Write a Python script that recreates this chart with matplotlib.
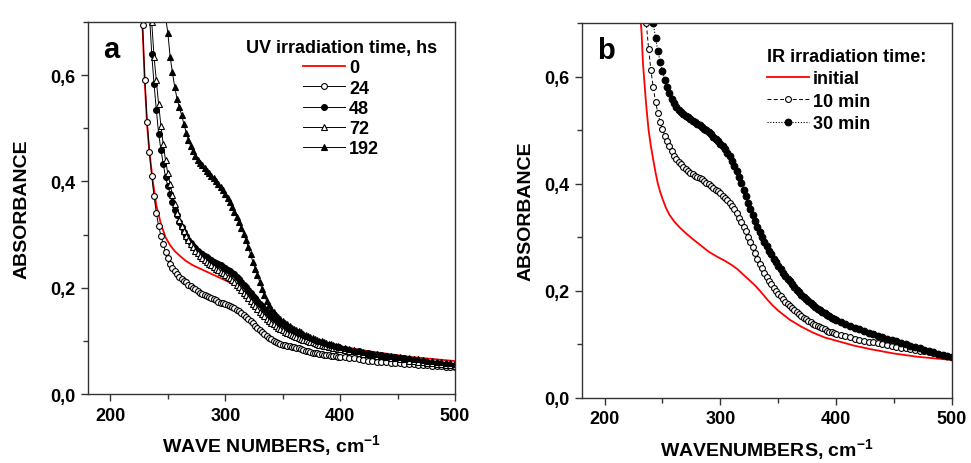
import numpy as np
import matplotlib
matplotlib.use('Agg')
import matplotlib.pyplot as plt
from matplotlib.ticker import MultipleLocator

plt.rcParams['font.family'] = ['Liberation Sans Narrow', 'Liberation Sans', 'DejaVu Sans']
plt.rcParams['font.weight'] = 'bold'
plt.rcParams['mathtext.fontset'] = 'custom'
plt.rcParams['mathtext.rm'] = 'Liberation Sans:bold'
plt.rcParams['mathtext.default'] = 'rm'

# sampling grid of the spectra (nm step 2 up to 400, then 4)
wn = np.r_[np.arange(228, 401, 2), np.arange(404, 501, 4)]

# ---- panel a : UV irradiation ----
red_a_x = [226, 228, 230, 232, 234, 237, 240, 244, 248, 252, 256, 261, 266, 272, 278, 285, 292,
           300, 306, 313, 320, 326, 332, 340, 350, 360, 370, 380, 390, 400, 420, 440, 460, 480, 500]
red_a_y = [0.80, 0.69, 0.585, 0.505, 0.455, 0.40, 0.355, 0.32, 0.295, 0.280, 0.269, 0.259, 0.250,
           0.242, 0.236, 0.229, 0.222, 0.214, 0.208, 0.199, 0.188, 0.176, 0.163, 0.150, 0.134,
           0.120, 0.108, 0.100, 0.095, 0.090, 0.082, 0.076, 0.070, 0.066, 0.062]

uv_24 = [0.695, 0.590, 0.512, 0.455, 0.410, 0.372, 0.341, 0.316, 0.298, 0.283,   # 228-246
         0.267, 0.255, 0.245, 0.237, 0.231, 0.226, 0.221, 0.217, 0.213, 0.210,   # 248-266
         0.206, 0.203, 0.200, 0.197, 0.194, 0.191, 0.189, 0.186, 0.184, 0.182,   # 268-286
         0.180, 0.178, 0.176, 0.174, 0.172, 0.171, 0.169, 0.167, 0.165, 0.163,   # 288-306
         0.161, 0.159, 0.156, 0.152, 0.149, 0.145, 0.141, 0.137, 0.133, 0.128,   # 308-326
         0.124, 0.120, 0.116, 0.112, 0.109, 0.106, 0.103, 0.100, 0.098, 0.096,   # 328-346
         0.094, 0.093, 0.092, 0.091, 0.090, 0.089, 0.088, 0.087, 0.086, 0.085,   # 348-366
         0.083, 0.081, 0.080, 0.079, 0.078, 0.077, 0.077, 0.076, 0.075, 0.074,   # 368-386
         0.074, 0.073, 0.072, 0.072, 0.071, 0.070, 0.070,                        # 388-400
         0.069, 0.068, 0.067, 0.066, 0.064, 0.063, 0.062, 0.061, 0.061, 0.060,   # 404-440
         0.059, 0.058, 0.058, 0.057, 0.056, 0.056, 0.055, 0.054, 0.054, 0.053,   # 444-480
         0.052, 0.052, 0.051, 0.051, 0.050]                                      # 484-500

uv_48 = [0.715, 0.640, 0.583, 0.535, 0.490, 0.460, 0.433, 0.408, 0.392, 0.377,   # 234-252
         0.361, 0.347, 0.336, 0.324, 0.314, 0.305, 0.297, 0.290, 0.284, 0.278,   # 254-272
         0.274, 0.270, 0.266, 0.263, 0.260, 0.257, 0.254, 0.252, 0.249, 0.247,   # 274-292
         0.244, 0.242, 0.239, 0.237, 0.234, 0.231, 0.228, 0.225, 0.221, 0.216,   # 294-312
         0.211, 0.206, 0.201, 0.196, 0.190, 0.185, 0.180, 0.175, 0.170, 0.165,   # 314-332
         0.160, 0.155, 0.151, 0.147, 0.143, 0.140, 0.137, 0.134, 0.131, 0.128,   # 334-352
         0.126, 0.123, 0.121, 0.119, 0.116, 0.114, 0.112, 0.110, 0.108, 0.106,   # 354-372
         0.104, 0.102, 0.100, 0.098, 0.097, 0.095, 0.094, 0.093, 0.092, 0.091,   # 374-392
         0.090, 0.089, 0.088, 0.087,                                             # 394-400
         0.085, 0.083, 0.081, 0.080, 0.078, 0.077, 0.075, 0.074, 0.073, 0.071,   # 404-440
         0.070, 0.069, 0.068, 0.067, 0.065, 0.064, 0.063, 0.062, 0.061, 0.059,   # 444-480
         0.058, 0.057, 0.056, 0.055, 0.054]                                      # 484-500

uv_72 = [0.700, 0.635, 0.590, 0.545, 0.505, 0.470, 0.440, 0.415, 0.395, 0.375,   # 236-254
         0.357, 0.341, 0.328, 0.316, 0.306, 0.297, 0.289, 0.282, 0.276, 0.270,   # 256-274
         0.265, 0.260, 0.256, 0.252, 0.248, 0.245, 0.242, 0.239, 0.236, 0.233,   # 276-294
         0.230, 0.227, 0.224, 0.221, 0.218, 0.214, 0.210, 0.206, 0.201, 0.196,   # 296-314
         0.191, 0.186, 0.181, 0.175, 0.170, 0.165, 0.160, 0.155, 0.150, 0.146,   # 316-334
         0.142, 0.138, 0.134, 0.131, 0.128, 0.125, 0.122, 0.120, 0.117, 0.115,   # 336-354
         0.113, 0.111, 0.109, 0.107, 0.105, 0.104, 0.102, 0.101, 0.099, 0.098,   # 356-374
         0.097, 0.096, 0.094, 0.093, 0.092, 0.091, 0.090, 0.089, 0.088, 0.087,   # 376-394
         0.086, 0.085, 0.084,                                                    # 396-400
         0.083, 0.081, 0.080, 0.078, 0.076, 0.075, 0.074, 0.072, 0.071, 0.069,   # 404-440
         0.068, 0.067, 0.066, 0.065, 0.063, 0.062, 0.061, 0.060, 0.059, 0.058,   # 444-480
         0.057, 0.056, 0.055, 0.054, 0.053]                                      # 484-500

uv_192 = [0.710, 0.680, 0.635, 0.605, 0.578, 0.556, 0.540, 0.525, 0.508, 0.492,  # 248-266
          0.478, 0.466, 0.457, 0.448, 0.441, 0.435, 0.430, 0.425, 0.420, 0.415,  # 268-286
          0.411, 0.406, 0.401, 0.396, 0.390, 0.384, 0.377, 0.369, 0.361, 0.352,  # 288-306
          0.343, 0.333, 0.323, 0.313, 0.302, 0.290, 0.277, 0.263, 0.249, 0.236,  # 308-326
          0.224, 0.211, 0.198, 0.186, 0.175, 0.167, 0.160, 0.154, 0.149, 0.145,  # 328-346
          0.141, 0.137, 0.134, 0.131, 0.128, 0.125, 0.123, 0.121, 0.118, 0.116,  # 348-366
          0.113, 0.111, 0.109, 0.107, 0.105, 0.103, 0.101, 0.100, 0.099, 0.097,  # 368-386
          0.096, 0.095, 0.094, 0.093, 0.091, 0.090, 0.089,                       # 388-400
          0.086, 0.084, 0.082, 0.081, 0.079, 0.078, 0.076, 0.075, 0.074, 0.072,  # 404-440
          0.071, 0.070, 0.069, 0.068, 0.067, 0.066, 0.065, 0.064, 0.063, 0.062,  # 444-480
          0.061, 0.060, 0.059, 0.058, 0.057]                                     # 484-500

# ---- panel b : IR irradiation ----
red_b_x = [229, 230, 231, 232, 233, 234, 236, 238, 240, 242, 244, 246, 248, 250, 253, 256, 260,
           265, 270, 276, 283, 290, 297, 304, 310, 315, 320, 325, 330, 335, 340, 345, 350, 360,
           370, 380, 390, 400, 415, 430, 450, 470, 500]
red_b_y = [0.80, 0.745, 0.71, 0.68, 0.63, 0.60, 0.545, 0.50, 0.470, 0.445, 0.421, 0.400, 0.385,
           0.372, 0.355, 0.342, 0.330, 0.318, 0.308, 0.297, 0.285, 0.273, 0.264, 0.256, 0.248,
           0.240, 0.230, 0.220, 0.210, 0.198, 0.185, 0.173, 0.163, 0.146, 0.133, 0.122, 0.113,
           0.107, 0.098, 0.091, 0.083, 0.077, 0.071]

ir_10 = [0.750, 0.700, 0.652, 0.612, 0.580, 0.553, 0.532, 0.515, 0.502, 0.490,   # 234-252
         0.479, 0.470, 0.461, 0.452, 0.446, 0.441, 0.436, 0.431, 0.427, 0.424,   # 254-272
         0.421, 0.418, 0.415, 0.413, 0.410, 0.408, 0.405, 0.402, 0.399, 0.396,   # 274-292
         0.393, 0.389, 0.386, 0.382, 0.378, 0.374, 0.369, 0.364, 0.358, 0.352,   # 294-312
         0.345, 0.337, 0.329, 0.320, 0.311, 0.301, 0.291, 0.281, 0.270, 0.260,   # 314-332
         0.251, 0.242, 0.234, 0.226, 0.219, 0.212, 0.206, 0.200, 0.195, 0.190,   # 334-352
         0.185, 0.180, 0.176, 0.172, 0.168, 0.164, 0.160, 0.157, 0.153, 0.150,   # 354-372
         0.147, 0.144, 0.142, 0.139, 0.137, 0.134, 0.132, 0.130, 0.128, 0.126,   # 374-392
         0.124, 0.123, 0.121, 0.119,                                             # 394-400
         0.117, 0.115, 0.113, 0.111, 0.109, 0.107, 0.105, 0.104, 0.102, 0.100,   # 404-440
         0.099, 0.097, 0.096, 0.094, 0.093, 0.091, 0.090, 0.088, 0.087, 0.085,   # 444-480
         0.084, 0.082, 0.080, 0.078, 0.076]                                      # 484-500

ir_30 = [0.730, 0.700, 0.672, 0.648, 0.628, 0.610, 0.594, 0.580, 0.569, 0.558,   # 240-258
         0.550, 0.543, 0.538, 0.534, 0.530, 0.527, 0.524, 0.521, 0.518, 0.515,   # 260-278
         0.512, 0.509, 0.506, 0.503, 0.500, 0.496, 0.492, 0.488, 0.484, 0.480,   # 280-298
         0.475, 0.470, 0.464, 0.458, 0.451, 0.443, 0.434, 0.424, 0.413, 0.401,   # 300-318
         0.389, 0.377, 0.365, 0.353, 0.341, 0.330, 0.319, 0.309, 0.300, 0.291,   # 320-338
         0.283, 0.275, 0.268, 0.260, 0.253, 0.247, 0.240, 0.234, 0.228, 0.223,   # 340-358
         0.218, 0.212, 0.207, 0.202, 0.198, 0.193, 0.189, 0.185, 0.181, 0.177,   # 360-378
         0.174, 0.170, 0.167, 0.164, 0.161, 0.158, 0.155, 0.153, 0.150, 0.148,   # 380-398
         0.146,                                                                  # 400
         0.142, 0.138, 0.134, 0.131, 0.128, 0.125, 0.122, 0.119, 0.116, 0.114,   # 404-440
         0.111, 0.108, 0.106, 0.103, 0.100, 0.098, 0.095, 0.093, 0.090, 0.088,   # 444-480
         0.086, 0.083, 0.081, 0.078, 0.076]                                      # 484-500

y_ticks = [0.0, 0.2, 0.4, 0.6]
x_ticks = [200, 300, 400, 500]
tick_labels_y = [f'{v:.1f}'.replace('.', ',') for v in y_ticks]


def on_grid(y):
    return wn[-len(y):], y


def style_axes(ax, xlabel, ypad):
    ax.set_xlim(180.5, 500)
    ax.set_ylim(0, 0.7)
    ax.set_xticks(x_ticks)
    ax.set_yticks(y_ticks)
    ax.set_yticklabels(tick_labels_y)
    ax.xaxis.set_minor_locator(MultipleLocator(50))
    ax.yaxis.set_minor_locator(MultipleLocator(0.1))
    ax.tick_params(which='both', direction='out', top=False, right=False,
                   labelsize=13, width=1, color='#333333')
    ax.tick_params(which='major', length=5, pad=4)
    ax.tick_params(which='minor', length=3.5)
    for s in ax.spines.values():
        s.set_color('#333333')
        s.set_linewidth(1)
    ax.set_xlabel(xlabel, fontsize=14, fontweight='bold', labelpad=6)
    ax.set_ylabel('ABSORBANCE', fontsize=14, fontweight='bold', labelpad=ypad)


fig = plt.figure(figsize=(9.71, 4.64), dpi=100)
ax1 = fig.add_axes([0.0906, 0.1487, 0.378, 0.8017])
ax2 = fig.add_axes([0.5994, 0.1401, 0.381, 0.808])

# panel a
mk = dict(color='black', lw=0.7, ms=4.2, mew=0.8, mec='black')
ax1.plot(red_a_x, red_a_y, color='red', lw=1.3, label='0')
ax1.plot(*on_grid(uv_24), marker='o', mfc='white', label='24', **mk)
ax1.plot(*on_grid(uv_48), marker='o', mfc='black', label='48', **mk)
ax1.plot(*on_grid(uv_72), marker='^', mfc='white', label='72', **mk)
ax1.plot(*on_grid(uv_192), marker='^', mfc='black', label='192', **mk)
style_axes(ax1, 'WAVE NUMBERS, cm$^{-1}$', 14)
ax1.text(0.04, 0.905, 'a', transform=ax1.transAxes, fontsize=21, fontweight='bold')
ax1.legend(loc='upper right', bbox_to_anchor=(0.95, 0.954), frameon=False,
           title='UV irradiation time, hs',
           title_fontproperties={'weight': 'bold', 'size': 13},
           prop={'weight': 'bold', 'size': 13}, numpoints=1,
           handlelength=2.3, handletextpad=0.25, labelspacing=0.18,
           borderpad=0, borderaxespad=0)

# panel b
ax2.plot(red_b_x, red_b_y, color='red', lw=1.3, label='initial')
ax2.plot(*on_grid(ir_10), marker='o', mfc='white', ls=(0, (4, 2.5)), label='10 min',
         color='black', lw=0.7, ms=4.2, mew=0.8, mec='black')
ax2.plot(*on_grid(ir_30), marker='o', mfc='black', ls=(0, (1, 1.5)), label='30 min',
         color='black', lw=0.8, ms=4.8, mew=0.8, mec='black')
style_axes(ax2, 'WAVENUMBERS, cm$^{-1}$', 7)
ax2.text(0.04, 0.908, 'b', transform=ax2.transAxes, fontsize=21, fontweight='bold')
ax2.legend(loc='upper left', bbox_to_anchor=(0.5, 0.934), frameon=False,
           title='IR irradiation time:', alignment='left',
           title_fontproperties={'weight': 'bold', 'size': 13},
           prop={'weight': 'bold', 'size': 13}, numpoints=1,
           handlelength=2.3, handletextpad=0.25, labelspacing=0.3,
           borderpad=0, borderaxespad=0)

fig.savefig('out.png', dpi=100)
